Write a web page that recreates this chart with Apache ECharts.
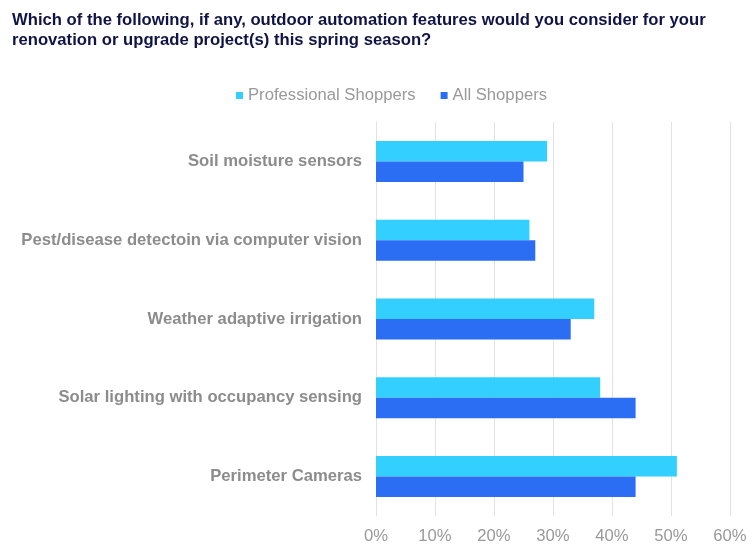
<!DOCTYPE html>
<html><head><meta charset="utf-8">
<script src="https://cdn.jsdelivr.net/npm/echarts@6/dist/echarts.min.js"></script>
<style>html,body{margin:0;padding:0;background:#fff}#c{width:755px;height:556px}</style>
</head><body><div id="c"></div>
<script>
var categories = ["Soil moisture sensors","Pest/disease detectoin via computer vision","Weather adaptive irrigation","Solar lighting with occupancy sensing","Perimeter Cameras"];
var professional = [29, 26, 37, 38, 51];
var allShoppers = [25, 27, 33, 44, 44];
var ticks = [0, 10, 20, 30, 40, 50, 60];
var FF = '"Liberation Sans", Arial, sans-serif';
var chart = echarts.init(document.getElementById('c'));
chart.setOption({
  backgroundColor: '#fff',
  animation: false,
  textStyle: {fontFamily: FF},
  title: {
    text: 'Which of the following, if any, outdoor automation features would you consider for your\nrenovation or upgrade project(s) this spring season?',
    left: 7, top: 5,
    textStyle: {fontSize: 16.67, fontWeight: 'bold', color: '#101345', lineHeight: 20, fontFamily: FF}
  },
  legend: {
    data: ['Professional Shoppers', 'All Shoppers'],
    left: 231, top: 82,
    icon: 'rect', itemWidth: 7, itemHeight: 7, itemGap: 25,
    textStyle: {fontSize: 16.67, color: '#999999', fontFamily: FF}
  },
  grid: {left: 376, right: 25, top: 122, bottom: 40, containLabel: false},
  xAxis: {
    type: 'value', min: ticks[0], max: ticks[ticks.length - 1], interval: 10,
    axisLabel: {formatter: function(v){return v + '%';}, fontSize: 16.67, color: '#999999', margin: 12, fontFamily: FF},
    splitLine: {lineStyle: {color: '#e2e2e2', width: 1}},
    axisLine: {show: false}, axisTick: {show: false}
  },
  yAxis: {
    type: 'category', data: categories, inverse: true,
    axisLine: {show: true, lineStyle: {color: '#e2e2e2'}},
    axisTick: {show: false},
    axisLabel: {fontSize: 16.67, fontWeight: 'bold', color: '#8c8c8c', margin: 14, fontFamily: FF}
  },
  series: [
    {name: 'Professional Shoppers', type: 'bar', data: professional, barGap: '0%', barCategoryGap: '48%', itemStyle: {color: '#33D0FF'}},
    {name: 'All Shoppers', type: 'bar', data: allShoppers, barGap: '0%', barCategoryGap: '48%', itemStyle: {color: '#2B6EF4'}}
  ]
});
</script></body></html>
